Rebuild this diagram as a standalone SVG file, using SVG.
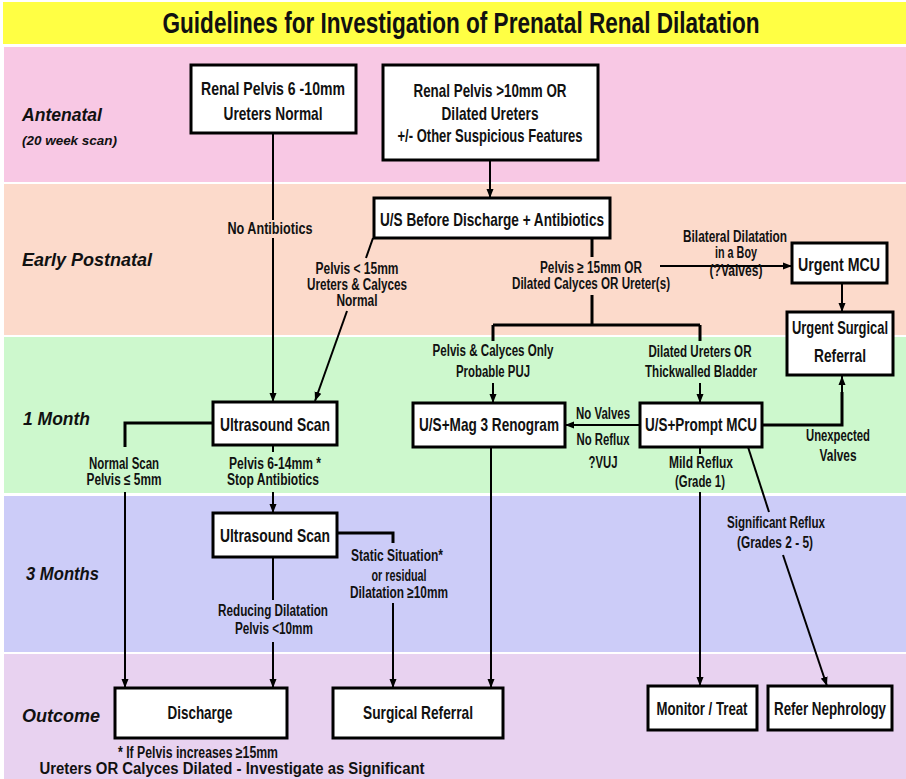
<svg xmlns="http://www.w3.org/2000/svg" width="906" height="779" viewBox="0 0 906 779">
<style>
.box{fill:#fff;stroke:#000;stroke-width:3}
.c{fill:none;stroke:#000;stroke-width:2}
.ct{fill:none;stroke:#000;stroke-width:3}
.a{marker-end:url(#arr)}
text{font-family:"Liberation Sans",Arial,sans-serif;font-weight:bold;fill:#111}
.bt{font-size:18.5px;text-anchor:middle}
.lb{font-size:16px;text-anchor:middle}
.st{font-size:18px;font-style:italic}
.ss{font-size:13px;font-style:italic}
.tt{font-size:29px;text-anchor:middle}
</style>
<defs>
<marker id="arr" markerUnits="userSpaceOnUse" markerWidth="9" markerHeight="8" refX="9" refY="4" orient="auto"><path d="M0,0.5 L9,4 L0,7.5 z" fill="#000"/></marker>
</defs>
<rect width="906" height="779" fill="#fff"/>
<g id="bands">
<rect x="3" y="2" width="903" height="42" fill="#FFFF44"/>
<rect x="4" y="47" width="902" height="135" fill="#F8C8E4"/>
<rect x="4" y="184" width="902" height="151" fill="#FCDACB"/>
<rect x="4" y="337" width="902" height="156" fill="#CDF8CD"/>
<rect x="4" y="496" width="902" height="156" fill="#CCCCF8"/>
<rect x="4" y="654" width="902" height="125" fill="#E8D2F0"/>
</g>
<text class="tt" x="461" y="33" textLength="597" lengthAdjust="spacingAndGlyphs">Guidelines for Investigation of Prenatal Renal Dilatation</text>
<g id="stages">
<text class="st" x="22" y="121" textLength="80" lengthAdjust="spacingAndGlyphs">Antenatal</text>
<text class="ss" x="22" y="145" textLength="95" lengthAdjust="spacingAndGlyphs">(20 week scan)</text>
<text class="st" x="22" y="266" textLength="130" lengthAdjust="spacingAndGlyphs">Early Postnatal</text>
<text class="st" x="23" y="425" textLength="67" lengthAdjust="spacingAndGlyphs">1 Month</text>
<text class="st" x="26" y="580" textLength="73" lengthAdjust="spacingAndGlyphs">3 Months</text>
<text class="st" x="22" y="722" textLength="78" lengthAdjust="spacingAndGlyphs">Outcome</text>
</g>
<g id="connectors">
<path class="c" d="M273,133 V220"/>
<path class="c a" d="M273,238 V402"/>
<path class="c a" d="M490,160 V198"/>
<path class="c" d="M373,238 L366,258"/>
<path class="c a" d="M347,311 L315,401"/>
<path class="ct" d="M592,238 V257"/>
<path class="ct" d="M592,295 V325 M493,325 H700 M493,325 V341 M700,325 V341"/>
<path class="c a" d="M493,383 V403"/>
<path class="c a" d="M700,383 V403"/>
<path class="c a" d="M660,266 H792"/>
<path class="c a" d="M842,283 V312"/>
<path class="c a" d="M640,425 H565"/>
<path class="ct" d="M762,425 H842 V392"/>
<path class="c a" d="M842,394 V376"/>
<path class="c" d="M700,447 V454"/>
<path class="c a" d="M700,492 V686"/>
<path class="c" d="M748,447 L769,512"/>
<path class="c a" d="M783,555 L827,686"/>
<path class="c a" d="M491,447 V688"/>
<path class="ct" d="M213,423 H125 V447"/>
<path class="c a" d="M125,492 V688"/>
<path class="c" d="M273,445 V452"/>
<path class="c a" d="M273,492 V513"/>
<path class="ct" d="M337,533 H393 V543"/>
<path class="c a" d="M393,603 V688"/>
<path class="c" d="M273,557 V600"/>
<path class="c a" d="M273,642 V688"/>
</g>
<g id="labels">
<text class="lb" x="270" y="234" textLength="85" lengthAdjust="spacingAndGlyphs">No Antibiotics</text>
<text class="lb" x="357" y="274" textLength="83" lengthAdjust="spacingAndGlyphs">Pelvis &lt; 15mm</text>
<text class="lb" x="357" y="290" textLength="100" lengthAdjust="spacingAndGlyphs">Ureters &amp; Calyces</text>
<text class="lb" x="357" y="306" textLength="41" lengthAdjust="spacingAndGlyphs">Normal</text>
<text class="lb" x="591" y="273" textLength="102" lengthAdjust="spacingAndGlyphs">Pelvis ≥ 15mm OR</text>
<text class="lb" x="591" y="289" textLength="158" lengthAdjust="spacingAndGlyphs">Dilated Calyces OR Ureter(s)</text>
<text class="lb" x="735" y="242" textLength="104" lengthAdjust="spacingAndGlyphs">Bilateral Dilatation</text>
<text class="lb" x="736" y="258" textLength="42" lengthAdjust="spacingAndGlyphs">in a Boy</text>
<text class="lb" x="736" y="276" textLength="53" lengthAdjust="spacingAndGlyphs">(?Valves)</text>
<text class="lb" x="493" y="356" textLength="121" lengthAdjust="spacingAndGlyphs">Pelvis &amp; Calyces Only</text>
<text class="lb" x="493" y="377" textLength="74" lengthAdjust="spacingAndGlyphs">Probable PUJ</text>
<text class="lb" x="700" y="357" textLength="103" lengthAdjust="spacingAndGlyphs">Dilated Ureters OR</text>
<text class="lb" x="701" y="377" textLength="112" lengthAdjust="spacingAndGlyphs">Thickwalled Bladder</text>
<text class="lb" x="603" y="419" textLength="54" lengthAdjust="spacingAndGlyphs">No Valves</text>
<text class="lb" x="603" y="445" textLength="53" lengthAdjust="spacingAndGlyphs">No Reflux</text>
<text class="lb" x="603" y="468" textLength="29" lengthAdjust="spacingAndGlyphs">?VUJ</text>
<text class="lb" x="838" y="441" textLength="64" lengthAdjust="spacingAndGlyphs">Unexpected</text>
<text class="lb" x="838" y="461" textLength="37" lengthAdjust="spacingAndGlyphs">Valves</text>
<text class="lb" x="701" y="468" textLength="64" lengthAdjust="spacingAndGlyphs">Mild Reflux</text>
<text class="lb" x="700" y="487" textLength="50" lengthAdjust="spacingAndGlyphs">(Grade 1)</text>
<text class="lb" x="124" y="469" textLength="70" lengthAdjust="spacingAndGlyphs">Normal Scan</text>
<text class="lb" x="124" y="485" textLength="75" lengthAdjust="spacingAndGlyphs">Pelvis ≤ 5mm</text>
<text class="lb" x="275" y="469" textLength="92" lengthAdjust="spacingAndGlyphs">Pelvis 6-14mm *</text>
<text class="lb" x="273" y="485" textLength="92" lengthAdjust="spacingAndGlyphs">Stop Antibiotics</text>
<text class="lb" x="397" y="561" textLength="92" lengthAdjust="spacingAndGlyphs">Static Situation*</text>
<text class="lb" x="399" y="581" textLength="55" lengthAdjust="spacingAndGlyphs">or residual</text>
<text class="lb" x="399" y="598" textLength="98" lengthAdjust="spacingAndGlyphs">Dilatation ≥10mm</text>
<text class="lb" x="273" y="616" textLength="110" lengthAdjust="spacingAndGlyphs">Reducing Dilatation</text>
<text class="lb" x="274" y="634" textLength="78" lengthAdjust="spacingAndGlyphs">Pelvis &lt;10mm</text>
<text class="lb" x="776" y="528" textLength="98" lengthAdjust="spacingAndGlyphs">Significant Reflux</text>
<text class="lb" x="775" y="548" textLength="76" lengthAdjust="spacingAndGlyphs">(Grades 2 - 5)</text>
<text class="lb" x="198" y="758" textLength="160" lengthAdjust="spacingAndGlyphs">* If Pelvis increases ≥15mm</text>
<text class="lb" x="232" y="774" textLength="385" lengthAdjust="spacingAndGlyphs">Ureters OR Calyces Dilated - Investigate as Significant</text>
</g>
<g id="n_ant1"><rect class="box" x="191" y="65" width="165" height="68"/>
<text class="bt" x="273" y="95" textLength="144" lengthAdjust="spacingAndGlyphs">Renal Pelvis 6 -10mm</text>
<text class="bt" x="273" y="120" textLength="99" lengthAdjust="spacingAndGlyphs">Ureters Normal</text></g>
<g id="n_ant2"><rect class="box" x="383" y="65" width="215" height="95"/>
<text class="bt" x="490" y="97" textLength="153" lengthAdjust="spacingAndGlyphs">Renal Pelvis &gt;10mm OR</text>
<text class="bt" x="490" y="120" textLength="97" lengthAdjust="spacingAndGlyphs">Dilated Ureters</text>
<text class="bt" x="490" y="142" textLength="185" lengthAdjust="spacingAndGlyphs">+/- Other Suspicious Features</text></g>
<g id="n_usbd"><rect class="box" x="374" y="198" width="236" height="40"/>
<text class="bt" x="492" y="226" textLength="224" lengthAdjust="spacingAndGlyphs">U/S Before Discharge + Antibiotics</text></g>
<g id="n_umcu"><rect class="box" x="792" y="243" width="95" height="40"/>
<text class="bt" x="839" y="271" textLength="82" lengthAdjust="spacingAndGlyphs">Urgent MCU</text></g>
<g id="n_usr"><rect class="box" x="787" y="312" width="106" height="63"/>
<text class="bt" x="840" y="334" textLength="96" lengthAdjust="spacingAndGlyphs">Urgent Surgical</text>
<text class="bt" x="840" y="362" textLength="52" lengthAdjust="spacingAndGlyphs">Referral</text></g>
<g id="n_us1"><rect class="box" x="213" y="402" width="124" height="43"/>
<text class="bt" x="275" y="431" textLength="110" lengthAdjust="spacingAndGlyphs">Ultrasound Scan</text></g>
<g id="n_mag3"><rect class="box" x="413" y="403" width="152" height="44"/>
<text class="bt" x="489" y="431" textLength="140" lengthAdjust="spacingAndGlyphs">U/S+Mag 3 Renogram</text></g>
<g id="n_pmcu"><rect class="box" x="640" y="403" width="122" height="44"/>
<text class="bt" x="701" y="431" textLength="112" lengthAdjust="spacingAndGlyphs">U/S+Prompt MCU</text></g>
<g id="n_us3"><rect class="box" x="213" y="513" width="124" height="44"/>
<text class="bt" x="275" y="542" textLength="110" lengthAdjust="spacingAndGlyphs">Ultrasound Scan</text></g>
<g id="n_dis"><rect class="box" x="115" y="688" width="172" height="50"/>
<text class="bt" x="200" y="719" textLength="65" lengthAdjust="spacingAndGlyphs">Discharge</text></g>
<g id="n_sref"><rect class="box" x="333" y="688" width="170" height="50"/>
<text class="bt" x="418" y="719" textLength="110" lengthAdjust="spacingAndGlyphs">Surgical Referral</text></g>
<g id="n_mon"><rect class="box" x="648" y="686" width="109" height="44"/>
<text class="bt" x="702" y="715" textLength="91" lengthAdjust="spacingAndGlyphs">Monitor / Treat</text></g>
<g id="n_neph"><rect class="box" x="768" y="686" width="124" height="44"/>
<text class="bt" x="830" y="715" textLength="112" lengthAdjust="spacingAndGlyphs">Refer Nephrology</text></g>
</svg>
